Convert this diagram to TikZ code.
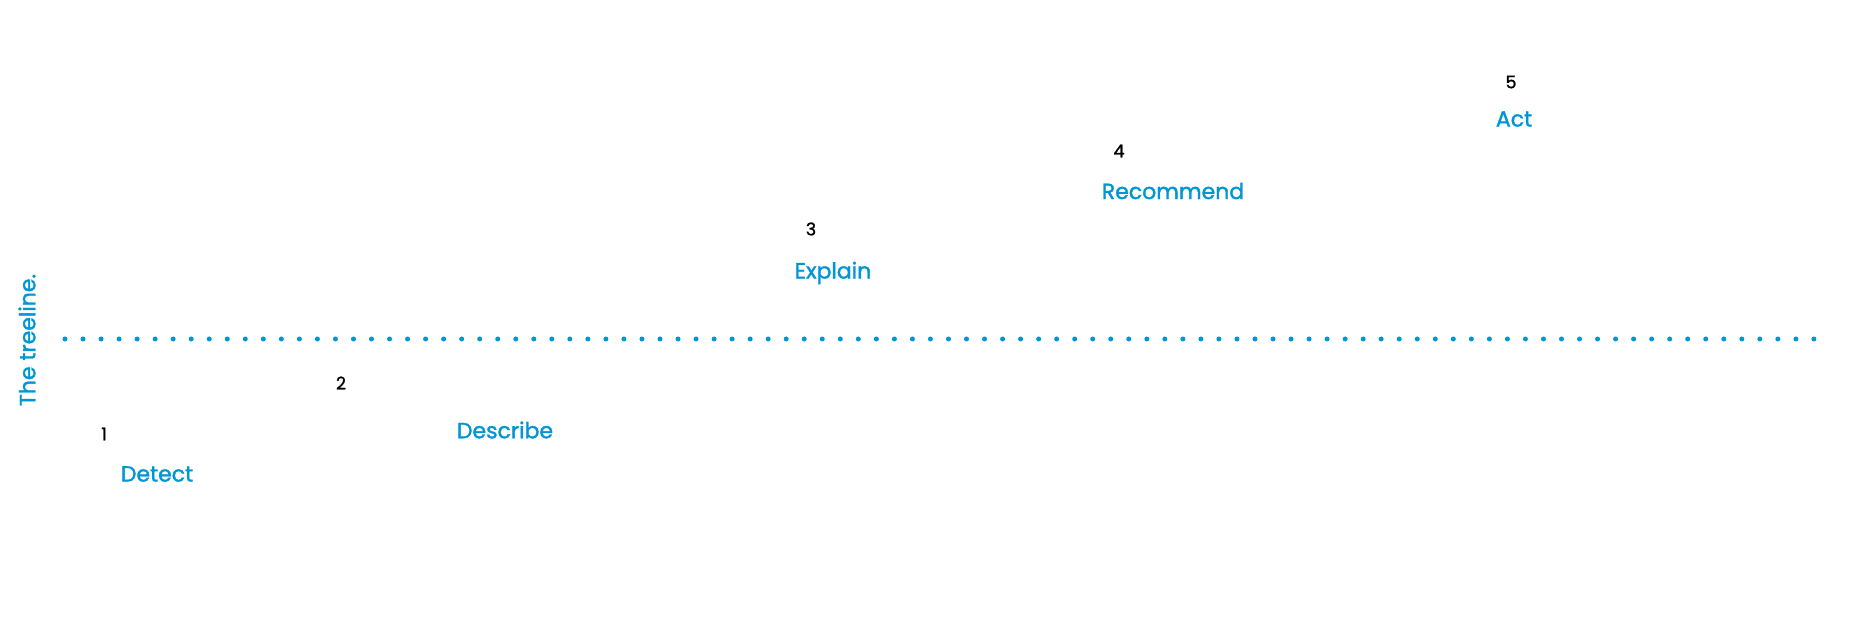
\documentclass[tikz,border=0pt]{standalone}
\usepackage{fontspec}
\setmainfont{Poppins}
\newfontfamily\lblfont{Poppins}[FakeBold=1.5]
\newfontfamily\numfont{Poppins}[FakeBold=1.2]
\definecolor{tlblue}{RGB}{0,150,214}
\tikzset{
  lbl/.style={text=tlblue, font=\lblfont\fontsize{22}{26}\selectfont, inner sep=0pt, anchor=center},
  num/.style={text=black, font=\numfont\fontsize{17.5}{20}\selectfont, inner sep=0pt, anchor=center},
  dots/.style={draw=tlblue, line width=5pt, line cap=round, dash pattern=on 0pt off 18.03pt}
}
\begin{document}
\begin{tikzpicture}[x=1pt,y=1pt]
\useasboundingbox (0,0) rectangle (1853,618);
\coordinate (L) at (65,279);
\coordinate (R) at (1815,279);
\draw[dots] (L) -- (R);
\node[lbl, rotate=90] (title) at (27,278) {The treeline.};
\node[num] (n1) at (104,184) {1};
\node[lbl] (l1) at (157,144) {Detect};
\node[num] (n2) at (341,235) {2};
\node[lbl] (l2) at (505,188) {Describe};
\node[num] (n3) at (811,389) {3};
\node[lbl] (l3) at (833,345) {Explain};
\node[num] (n4) at (1119,467) {4};
\node[lbl] (l4) at (1173,427) {Recommend};
\node[num] (n5) at (1511,536) {5};
\node[lbl] (l5) at (1514,499) {Act};
\end{tikzpicture}
\end{document}
